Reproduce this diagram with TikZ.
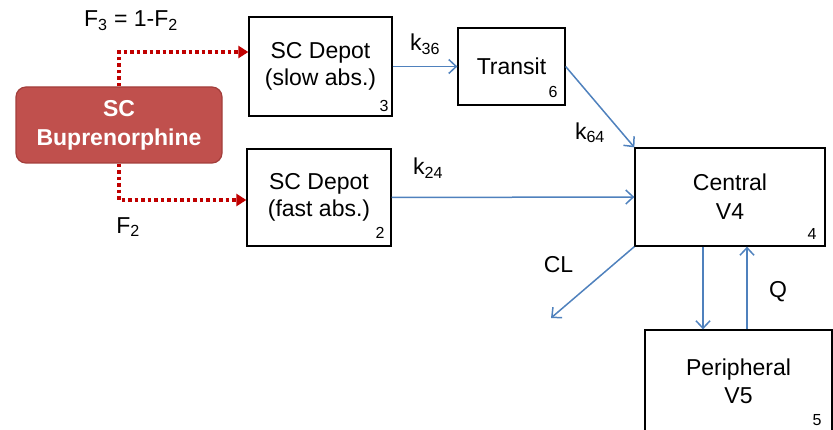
\documentclass[tikz,border=0pt]{standalone}
\usepackage{fontspec}
\setmainfont{Liberation Sans}
\usetikzlibrary{arrows.meta}

\definecolor{bupred}{HTML}{C0504D}
\definecolor{bupedge}{HTML}{A33E3B}
\definecolor{dotred}{HTML}{C00000}
\definecolor{flowblue}{HTML}{4F81BD}

\begin{document}
\begin{tikzpicture}[
    x=1pt, y=-1pt,
    font=\fontsize{23}{27}\selectfont,  % Arial-sized text
    >={Straight Barb[length=7.5pt, width=14pt]},
    % Node styles:
    comp/.style={rectangle, draw, line width=1.3pt, align=center, inner sep=0pt},
    dose/.style={rectangle, rounded corners=10pt, draw=bupedge, fill=bupred,
                 line width=1.2pt, text=white, align=center,
                 font=\fontsize{23}{29}\selectfont\bfseries},
    num/.style={font=\fontsize{16}{18}\selectfont, inner sep=0pt},
    % Arrow styles:
    line/.style={->, draw=flowblue, line width=1.5pt},
    split/.style={-{Triangle[length=10pt, width=12pt]}, draw=dotred,
                  line width=3.5pt, dash pattern=on 3.5pt off 3pt},
]
\clip (0,0) rectangle (833,430);

% --- NODES ---
\node[dose, minimum width=206, minimum height=76] (bup) at (119,125) {SC\\Buprenorphine};
\node[comp, minimum width=143, minimum height=99] (slow) at (320.5,66.5) {SC Depot\\(slow abs.)};
\node[comp, minimum width=107, minimum height=77] (transit) at (511.5,66.5) {Transit};
\node[comp, minimum width=144, minimum height=97] (fast) at (319,197.5) {SC Depot\\(fast abs.)};
\node[comp, minimum width=190, minimum height=98, font=\fontsize{23}{29}\selectfont] (central) at (730,197) {Central\\V4};
\node[comp, minimum width=187, minimum height=102, font=\fontsize{23}{28}\selectfont] (peri) at (738.5,381) {Peripheral\\V5};

% compartment numbers
\node[num, anchor=south east] (n3) at ([xshift=-4pt, yshift=5pt]slow.south east) {3};
\node[num, anchor=south east] (n6) at ([xshift=-8pt, yshift=8pt]transit.south east) {6};
\node[num, anchor=south east] (n2) at ([xshift=-7pt, yshift=8pt]fast.south east) {2};
\node[num, anchor=south east] (n4) at ([xshift=-9pt, yshift=7pt]central.south east) {4};
\node[num, anchor=south east] (n5) at ([xshift=-11pt, yshift=7pt]peri.south east) {5};

% elimination end point
\coordinate (out) at (551,318);

% --- ARROWS ---
% Dose split
\draw[split] (bup.north) |- node[pos=0.5, xshift=12pt, yshift=31pt]
      {F\textsubscript{3} = 1-F\textsubscript{2}} ([yshift=14.5pt]slow.west);
\draw[split] (bup.south) |- node[pos=0.5, xshift=9pt, yshift=-27pt]
      {F\textsubscript{2}} ([yshift=-2.5pt]fast.west);

% Absorption
\draw[line] (slow.east) -- node[midway, yshift=22pt] {k\textsubscript{36}} (transit.west);
\draw[line] (transit.east) -- node[pos=0.82, xshift=-32pt] {k\textsubscript{64}} (central.north west);
\draw[line] (fast.east) -- node[pos=0.15, yshift=29.5pt] {k\textsubscript{24}} (central.west);

% Clearance
\draw[line] (central.south west) -- node[pos=0.25, xshift=-55pt] {CL} (out);

% Distribution
\draw[line] ([xshift=-27pt]central.south) -- ([xshift=-27pt]central.south |- peri.north);
\draw[line] ([xshift=8.5pt]peri.north) -- node[midway, xshift=31pt, yshift=-4pt] {Q}
      ([xshift=8.5pt]peri.north |- central.south);

\end{tikzpicture}
\end{document}
